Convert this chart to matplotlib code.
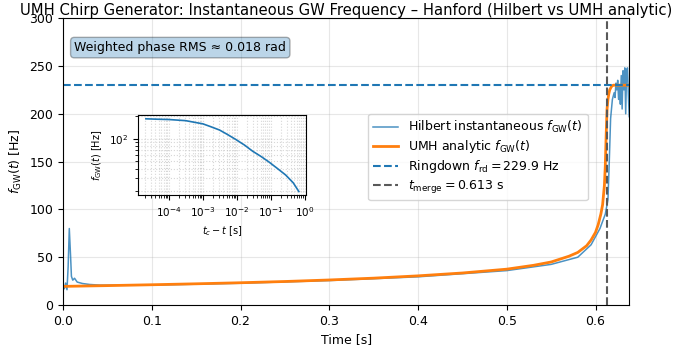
import matplotlib
matplotlib.use("Agg")
import matplotlib.pyplot as plt

# Hilbert instantaneous frequency
t_hilbert = [0.0, 0.0015, 0.003, 0.0045, 0.0058, 0.0071, 0.0086, 0.0095, 0.011, 0.013,
             0.016, 0.022, 0.03, 0.042, 0.1, 0.2, 0.3, 0.4, 0.5, 0.55, 0.58, 0.595,
             0.605, 0.611, 0.614, 0.6155, 0.617, 0.619, 0.621, 0.622, 0.623, 0.624,
             0.625, 0.626, 0.627, 0.628, 0.629, 0.630, 0.631, 0.632, 0.633, 0.634,
             0.635, 0.636, 0.637, 0.638]
f_hilbert = [18, 17, 23, 16, 40, 80, 50, 30, 26, 28,
             24, 22.5, 21.5, 20.8, 20.8, 22.8, 25.6, 29.5, 36, 42.5, 50, 63,
             80, 95, 110, 150, 195, 215, 222, 217, 232, 225,
             235, 215, 230, 210, 240, 205, 245, 225, 248, 200,
             245, 248, 220, 197]

# UMH analytic chirp
t_umh = [0.0, 0.05, 0.1, 0.15, 0.2, 0.25, 0.3, 0.35, 0.4, 0.45, 0.5, 0.53, 0.55,
         0.57, 0.58, 0.59, 0.595, 0.60, 0.603, 0.606, 0.608, 0.610, 0.611, 0.612,
         0.613, 0.614, 0.615, 0.616, 0.618, 0.62, 0.638]
f_umh = [19.5, 20.3, 21.2, 22.2, 23.3, 24.6, 26.2, 28.1, 30.5, 33.5, 37.5, 41.5, 45,
         51, 55, 62, 68, 76, 84, 95, 105, 125, 145, 178,
         205, 215, 221, 225, 228.5, 229.9, 229.9]

# inset: pre-merger chirp vs time to coalescence
tau_inset = [2.1e-5, 4.1e-5, 1e-4, 3.1e-4, 1e-3, 1.7e-3, 3.1e-3, 5.4e-3, 9.5e-3,
             1.7e-2, 2.95e-2, 5.2e-2, 8.9e-2, 0.16, 0.275, 0.46, 0.67]
f_inset = [183, 181, 179, 173, 157, 144, 130, 113, 97,
           82, 68, 58, 49, 40, 33, 26, 20]

f_rd = 229.9
t_merge = 0.613
phase_rms = 0.018

plt.rcParams["font.size"] = 9.0

fig = plt.figure(figsize=(6.81, 3.49), dpi=100)
ax = fig.add_axes([0.0925, 0.126, 0.8315, 0.822])

ax.plot(t_hilbert, f_hilbert, color="C0", lw=1.1, alpha=0.8,
        label=r"Hilbert instantaneous $f_{\rm GW}(t)$")
ax.plot(t_umh, f_umh, color="C1", lw=2.0, label=r"UMH analytic $f_{\rm GW}(t)$")
ax.axhline(f_rd, color="C0", ls="--", lw=1.5,
           label=r"Ringdown $f_{\rm rd} = %.1f$ Hz" % f_rd)
ax.axvline(t_merge, color="0.35", ls="--", lw=1.5,
           label=r"$t_{\rm merge} = %.3f$ s" % t_merge)

ax.set_xlim(0, 0.638)
ax.set_ylim(0, 300)
ax.set_xlabel("Time [s]")
ax.set_ylabel(r"$f_{\rm GW}(t)$ [Hz]")
ax.set_title("UMH Chirp Generator: Instantaneous GW Frequency – Hanford (Hilbert vs UMH analytic)",
             fontsize=10.6, pad=2)
ax.grid(True, alpha=0.3)
ax.legend(loc="upper left", bbox_to_anchor=(0.539, 0.666), borderaxespad=0,
          labelspacing=0.25)

ax.text(0.02, 0.92, "Weighted phase RMS ≈ %.3f rad" % phase_rms,
        transform=ax.transAxes, va="top", ha="left",
        bbox=dict(boxstyle="round", facecolor="C0", alpha=0.3))

ins = fig.add_axes([0.203, 0.441, 0.247, 0.229])
ins.loglog(tau_inset, f_inset, color="C0", lw=1.2)
ins.grid(True, which="both", ls=":", alpha=0.5)
ins.set_xlabel(r"$t_c - t$ [s]", fontsize=7)
ins.set_ylabel(r"$f_{\rm GW}(t)$ [Hz]", fontsize=7)
ins.tick_params(labelsize=7.5)

fig.savefig("out.png", dpi=100)
